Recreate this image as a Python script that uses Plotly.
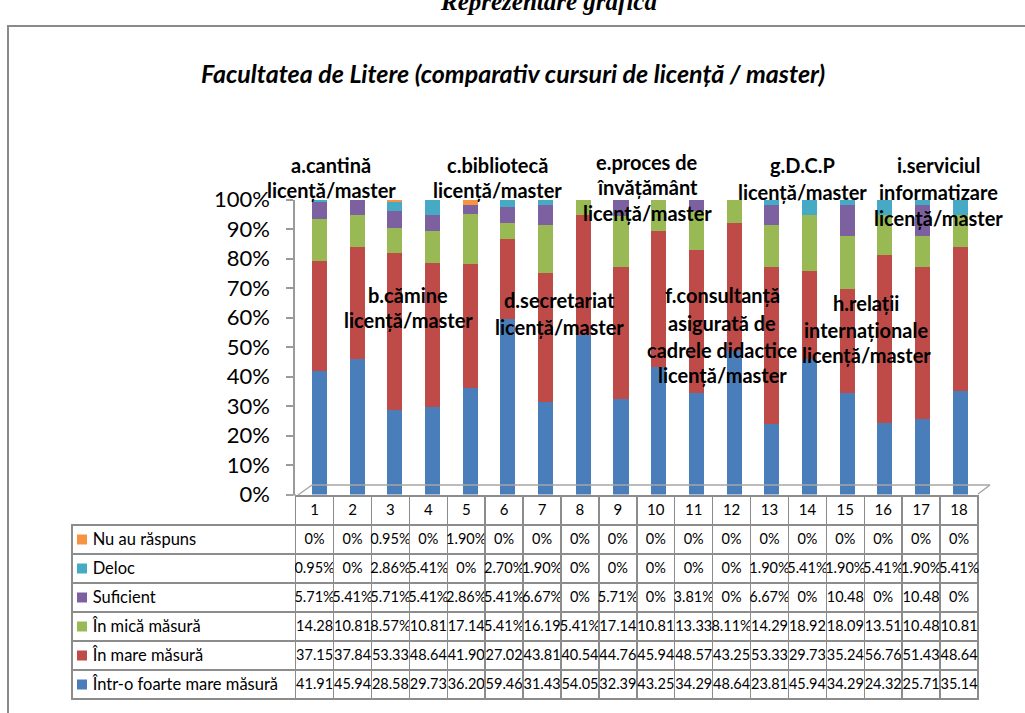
import plotly.graph_objects as go

W, H = 1025, 713

categories = [str(i) for i in range(1, 19)]

series_names = [
    "Într-o foarte mare măsură",
    "În mare măsură",
    "În mică măsură",
    "Suficient",
    "Deloc",
    "Nu au răspuns",
]
foarte_mare = [41.91, 45.94, 28.58, 29.73, 36.20, 59.46, 31.43, 54.05, 32.39, 43.25, 34.29, 48.64, 23.81, 45.94, 34.29, 24.32, 25.71, 35.14]
mare = [37.15, 37.84, 53.33, 48.64, 41.90, 27.02, 43.81, 40.54, 44.76, 45.94, 48.57, 43.25, 53.33, 29.73, 35.24, 56.76, 51.43, 48.64]
mica = [14.28, 10.81, 8.57, 10.81, 17.14, 5.41, 16.19, 5.41, 17.14, 10.81, 13.33, 8.11, 14.29, 18.92, 18.09, 13.51, 10.48, 10.81]
suficient = [5.71, 5.41, 5.71, 5.41, 2.86, 5.41, 6.67, 0, 5.71, 0, 3.81, 0, 6.67, 0, 10.48, 0, 10.48, 0]
deloc = [0.95, 0, 2.86, 5.41, 0, 2.70, 1.90, 0, 0, 0, 0, 0, 1.90, 5.41, 1.90, 5.41, 1.90, 5.41]
nu_au = [0, 0, 0.95, 0, 1.90, 0, 0, 0, 0, 0, 0, 0, 0, 0, 0, 0, 0, 0]
series_values = [foarte_mare, mare, mica, suficient, deloc, nu_au]
colors = ["#4a7ebb", "#be4b48", "#98b954", "#7d60a0", "#46aac5", "#f69240"]

# group labels (lines) and their centre positions in pixels
group_labels = [
    (["a.cantină", "licență/master"], 331, [165, 190]),
    (["b.cămine", "licență/master"], 408, [295, 320]),
    (["c.bibliotecă", "licență/master"], 497, [165, 190]),
    (["d.secretariat", "licență/master"], 559, [300, 327]),
    (["e.proces de", "învățământ", "licență/master"], 647, [162, 187, 213]),
    (["f.consultanță", "asigurată de", "cadrele didactice", "licență/master"], 722, [295, 323, 350, 375]),
    (["g.D.C.P", "licență/master"], 802, [165, 192]),
    (["h.relații", "internaționale", "licență/master"], 866, [303, 330, 355]),
    (["i.serviciul", "informatizare", "licență/master"], 938, [165, 192, 218]),
]

title_text = "Facultatea de Litere (comparativ cursuri de licență / master)"


def px(x, y):
    return x / W, 1 - y / H


def fmt(v):
    if v == 0:
        return "0%"
    if v < 10:
        return f"{v:.2f}%"
    return f"{v:.2f}"


FONT = "Lato, 'Open Sans', sans-serif"

fig = go.Figure()

for name, vals, col in zip(series_names, series_values, colors):
    fig.add_trace(go.Bar(
        x=categories, y=vals, name=name,
        marker=dict(color=col, line=dict(width=0)),
        width=0.4, showlegend=False, hoverinfo="skip",
    ))

# data table
order = list(reversed(range(len(series_names))))  # Nu au răspuns first
NB = "\u00a0"
label_cells = [NB * 3 + series_names[i] for i in order]
table_cols = [label_cells]
for j in range(len(categories)):
    table_cols.append([fmt(series_values[i][j]) for i in order])

grid = "#8c8c8c"
TOP, HDR, ROW = 496, 29, 29
tx0, ty0 = px(72, TOP)
tx1, ty1 = px(979, 712)
fig.add_trace(go.Table(
    domain=dict(x=[tx0, tx1], y=[ty1, ty0]),
    columnwidth=[223] + [37.8] * len(categories),
    header=dict(
        values=[""] + categories,
        height=HDR,
        fill=dict(color=["rgba(0,0,0,0)"] + ["white"] * len(categories)),
        line=dict(color=["rgba(0,0,0,0)"] + [grid] * len(categories), width=1.5),
        align="center",
        font=dict(family=FONT, size=15, color="black"),
    ),
    cells=dict(
        values=table_cols,
        height=ROW,
        fill_color="white",
        line=dict(color=grid, width=1.5),
        align=["left"] + ["center"] * len(categories),
        font=dict(family=FONT, size=[16.5] + [14.5] * len(categories), color="black"),
    ),
))

xd0, _ = px(295, 0)
xd1, _ = px(979, 0)
_, yd0 = px(0, 494.5)
_, yd1 = px(0, 199.5)

fig.update_layout(
    width=W, height=H,
    margin=dict(l=0, r=0, t=0, b=0, pad=0, autoexpand=False),
    template="none",
    paper_bgcolor="white", plot_bgcolor="rgba(0,0,0,0)",
    barmode="stack", barnorm="percent",
    font=dict(family=FONT, color="black"),
    showlegend=False,
    xaxis=dict(
        domain=[xd0, xd1], range=[-0.65, 17.5], type="category", automargin=False,
        showticklabels=False, showline=False, showgrid=False, zeroline=False, ticks="",
    ),
    yaxis=dict(
        domain=[yd0, yd1], range=[0, 100], dtick=10, ticksuffix="%", automargin=False,
        showline=True, linecolor="#9a9a9a", linewidth=1.5,
        ticks="outside", ticklen=7, tickcolor="#9a9a9a", tickwidth=1.5,
        showgrid=False, zeroline=False,
        tickfont=dict(family=FONT, size=22, color="black"),
        ticklabelstandoff=12,
    ),
)

shapes = []
# outer chart border
bx0, by0 = px(8, 26)
bx1, by1 = px(1040, 730)
shapes.append(dict(type="rect", xref="paper", yref="paper", x0=bx0, y0=by1, x1=bx1, y1=by0,
                   line=dict(color="#8a8a8a", width=2), fillcolor="rgba(0,0,0,0)", layer="below"))
# 3D floor outline
floor_pts = [((287, 495), (296, 495)), ((298, 495), (312, 485)), ((312, 485), (990, 485)), ((990, 485), (978, 494))]
for (a, b) in floor_pts:
    x0, y0 = px(*a)
    x1, y1 = px(*b)
    shapes.append(dict(type="line", xref="paper", yref="paper", x0=x0, y0=y0, x1=x1, y1=y1,
                       line=dict(color="#a6a6a6", width=1.5)))
# legend keys inside the table's label column
for k, i in enumerate(order):
    cy = TOP + HDR + ROW * k + ROW / 2
    sx0, sy0 = px(77, cy - 5)
    sx1, sy1 = px(87, cy + 5)
    shapes.append(dict(type="rect", xref="paper", yref="paper", x0=sx0, y0=sy1, x1=sx1, y1=sy0,
                       fillcolor=colors[i], line=dict(width=0), layer="above"))
fig.update_layout(shapes=shapes)

ann = []


def add_text(text, x, y, size, family=FONT):
    ax, ay = px(x, y)
    ann.append(dict(text=text, x=ax, y=ay, xref="paper", yref="paper",
                    xanchor="center", yanchor="middle", showarrow=False,
                    font=dict(family=family, size=size, color="black")))


add_text(f"<b><i>{title_text}</i></b>", 513, 73, 25)
add_text("<b><i>Reprezentare grafică</i></b>", 548, 1, 25, "Liberation Serif")
for lines, cx, ys in group_labels:
    for line, yy in zip(lines, ys):
        add_text(f"<b>{line}</b>", cx, yy, 20)
fig.update_layout(annotations=ann)

fig.write_html(
    "out.html",
    config={"displayModeBar": False},
    post_script="document.body.style.margin='0';document.body.style.overflow='hidden';",
)
